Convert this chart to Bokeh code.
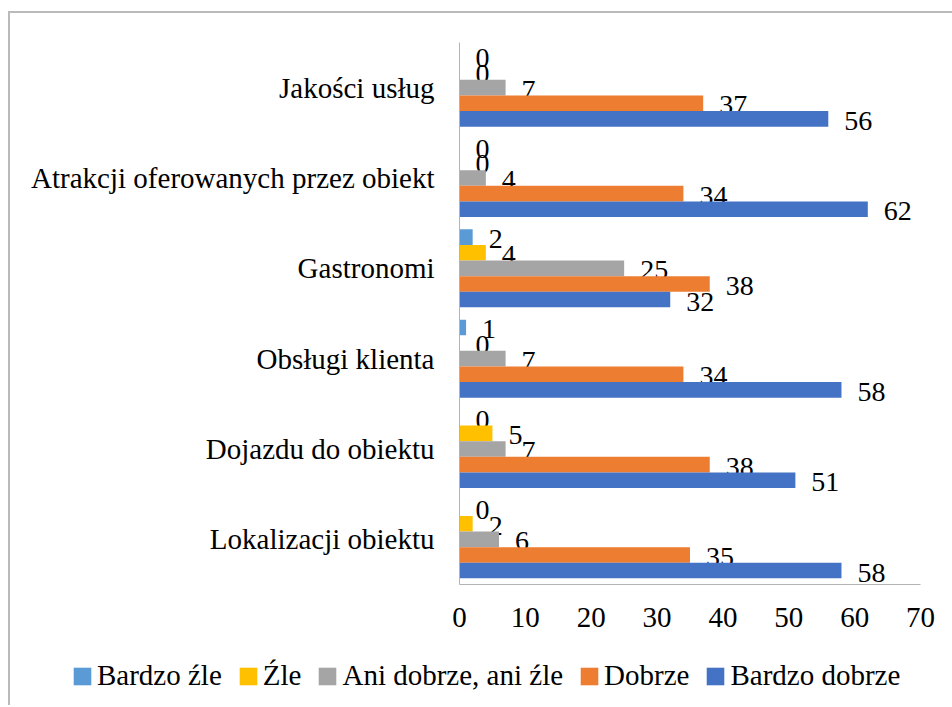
from bokeh.plotting import figure
from bokeh.layouts import column, row
from bokeh.models import (FactorRange, ColumnDataSource, Legend, LegendItem,
                          Range1d, FixedTicker)
from bokeh.transform import dodge
from bokeh.core.properties import value
from bokeh.embed import file_html
from bokeh.resources import INLINE

# ---- data ----
categories = ["Lokalizacji obiektu", "Dojazdu do obiektu", "Obsługi klienta",
              "Gastronomi", "Atrakcji oferowanych przez obiekt", "Jakości usług"]
series_names = ["Bardzo źle", "Źle", "Ani dobrze, ani źle", "Dobrze", "Bardzo dobrze"]
bardzo_zle = [0, 0, 1, 2, 0, 0]
zle = [2, 5, 0, 4, 0, 0]
ani_dobrze_ani_zle = [6, 7, 7, 25, 4, 7]
dobrze = [35, 38, 34, 38, 34, 37]
bardzo_dobrze = [58, 51, 58, 32, 62, 56]
x_ticks = [0, 10, 20, 30, 40, 50, 60, 70]

series_values = [bardzo_zle, zle, ani_dobrze_ani_zle, dobrze, bardzo_dobrze]
colors = ["#5B9BD5", "#FFC000", "#A5A5A5", "#ED7D31", "#4472C4"]

FONT = "Liberation Serif"

p = figure(width=942, height=646,
           y_range=FactorRange(factors=categories, range_padding=0),
           x_range=Range1d(0, 70),
           output_backend="svg", toolbar_location=None,
           min_border_left=449, min_border_right=32,
           min_border_top=29, min_border_bottom=75)

bar_h = 0.1726
for i, (name, vals, col) in enumerate(zip(series_names, series_values, colors)):
    off = (2 - i) * bar_h
    src = ColumnDataSource(dict(cat=categories, val=vals, lbl=[str(v) for v in vals]))
    p.hbar(y=dodge("cat", off, range=p.y_range), left=0, right="val",
           height=bar_h, source=src, fill_color=col, line_color=None)
    p.text(x="val", y=dodge("cat", off, range=p.y_range), text="lbl", source=src,
           x_offset=16, y_offset=2, text_baseline="middle", text_align="left",
           text_font=value(FONT), text_font_size="28px", text_color="black")

# axes
p.xaxis.ticker = FixedTicker(ticks=x_ticks)
for ax in (p.xaxis, p.yaxis):
    ax.major_tick_line_color = None
    ax.minor_tick_line_color = None
    ax.axis_line_color = "#b4b4b4"
    ax.axis_line_width = 1
    ax.major_label_text_font = FONT
    ax.major_label_text_font_size = "29px"
    ax.major_label_text_color = "black"
p.xaxis.major_tick_out = 0
p.yaxis.major_tick_out = 0
p.xaxis.major_label_standoff = 23
p.yaxis.major_label_standoff = 25
p.xgrid.visible = False
p.ygrid.visible = False
p.outline_line_color = None

# legend in its own strip below the chart
pl = figure(width=942, height=46, x_range=Range1d(0, 1), y_range=Range1d(0, 1),
            output_backend="svg", toolbar_location=None,
            x_axis_type=None, y_axis_type=None,
            min_border_left=0, min_border_right=0, min_border_top=0, min_border_bottom=0)
pl.grid.visible = False
pl.outline_line_color = None
items = []
for name, col in zip(series_names, colors):
    # zero-size swatch carrier: only its colour is used by the legend
    r = pl.hbar(y=[0], left=[0], right=[0], height=0, fill_color=col, line_color=None)
    items.append(LegendItem(label=name, renderers=[r]))
legend = Legend(items=items, orientation="horizontal", location=(61, 13),
                glyph_width=22, glyph_height=22, label_standoff=4, spacing=15,
                padding=0, margin=0, border_line_color=None,
                background_fill_alpha=0,
                label_text_font=FONT, label_text_font_size="29px",
                label_text_color="black")
pl.add_layout(legend, "center")

layout = column(p, row(pl), spacing=0,
                styles={"margin-left": "8px", "margin-top": "11px",
                        "border-left": "2px solid #bababa",
                        "border-top": "2px solid #bababa"})

open("out.html", "w").write(file_html(layout, INLINE))
